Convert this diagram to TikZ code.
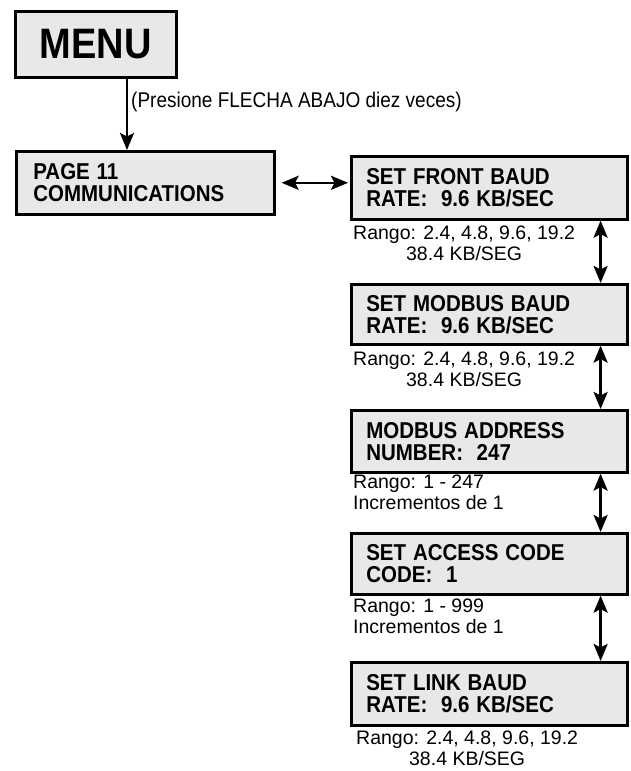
\documentclass[tikz,border=0pt]{standalone}
\usepackage{graphicx}
\usepackage{fontspec}
\setmainfont{Liberation Sans}
\usetikzlibrary{arrows.meta}
\newcommand{\tall}[1]{\scalebox{1}[1.12]{#1}}

\begin{document}
\begin{tikzpicture}[x=1pt, y=-1pt,
    panel/.style={draw=black, line width=2.6pt, fill=gray!18, anchor=north west,
      inner xsep=15pt, inner ysep=0pt, text width=246pt, minimum height=62pt,
      align=left, font=\fontsize{20.5}{22}\selectfont\bfseries},
    note/.style={anchor=north west, inner sep=0pt, align=left,
      font=\fontsize{19.5}{21}\selectfont},
    tip/.tip={Stealth[length=17pt, width=14pt, inset=3.5pt]},
    onearrow/.style={line width=2.6pt, -tip},
    botharrow/.style={line width=2.6pt, tip-tip}]
        \useasboundingbox (0,0) rectangle (631,771);
        % menu and page 11
        \node[panel, text width=161pt, inner xsep=0pt, minimum height=66pt, align=center,
          font=\fontsize{38}{38}\selectfont\bfseries] (menu) at (14,10) {\tall{MENU}};
        \node[panel, text width=224pt, inner xsep=17pt, minimum height=63pt] (page) at (15,150)
          {\tall{PAGE 11}\\\tall{COMMUNICATIONS}};
        \coordinate (menuarr) at (127,76);
        \draw[onearrow] (menuarr) -- (menuarr |- page.north);
        \node[note, font=\fontsize{19}{19}\selectfont] (press) at (131,92)
          {\tall{(Presione FLECHA ABAJO diez veces)}};
        % settings column
        \node[panel, minimum height=63pt] (front) at (350,155) {\tall{SET FRONT BAUD}\\\tall{RATE:\ \ 9.6 KB/SEC}};
        \node[panel, minimum height=60pt] (modbus) at (350,283) {\tall{SET MODBUS BAUD}\\\tall{RATE:\ \ 9.6 KB/SEC}};
        \node[panel] (address) at (350,409) {\tall{MODBUS ADDRESS}\\\tall{NUMBER:\ \ 247}};
        \node[panel, minimum height=61pt] (access) at (350,532) {\tall{SET ACCESS CODE}\\\tall{CODE:\ \ 1}};
        \node[panel, minimum height=63pt] (linkbaud) at (350,661) {\tall{SET LINK BAUD}\\\tall{RATE:\ \ 9.6 KB/SEC}};
        % ranges
        \node[note, align=center] (frontnote) at (353,226) {Rango: 2.4, 4.8, 9.6, 19.2\\38.4 KB/SEG};
        \node[note, align=center] (modbusnote) at (353,352) {Rango: 2.4, 4.8, 9.6, 19.2\\38.4 KB/SEG};
        \node[note] (addressnote) at (353,475) {Rango: 1 - 247\\Incrementos de 1};
        \node[note] (accessnote) at (353,599) {Rango: 1 - 999\\Incrementos de 1};
        \node[note, align=center] (linknote) at (356,731) {Rango: 2.4, 4.8, 9.6, 19.2\\38.4 KB/SEG};
        % connectors
        \draw[botharrow] ([xshift=6pt]page.east) -- ([xshift=-2pt]page.east -| front.west);
        \foreach \upper/\lower in {front/modbus, modbus/address, address/access, access/linkbaud}
          \draw[botharrow] ([xshift=-28pt]\upper.south east) -- ([xshift=-28pt]\lower.north east);
    \end{tikzpicture}
\end{document}
